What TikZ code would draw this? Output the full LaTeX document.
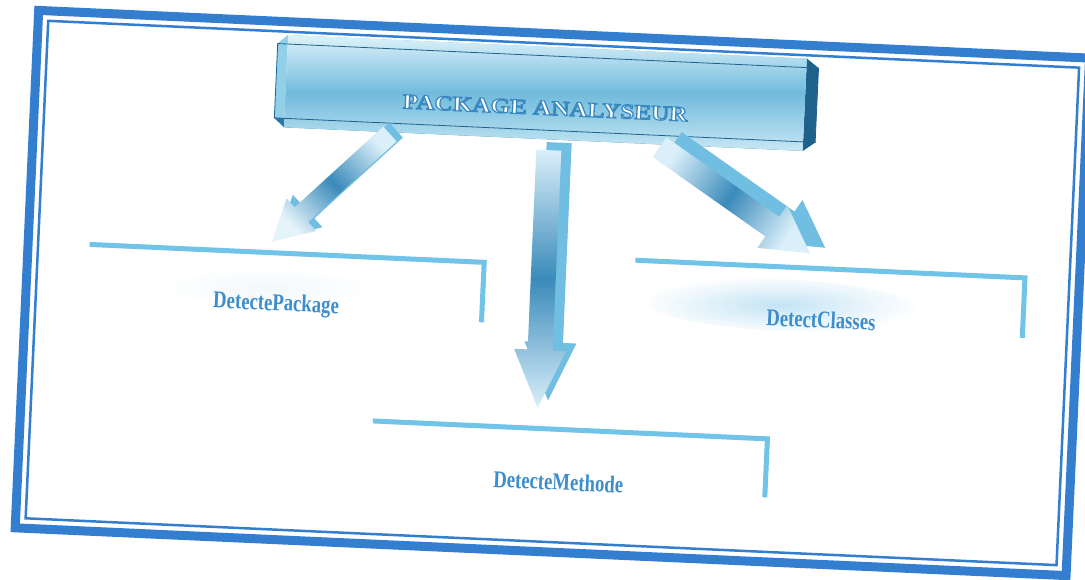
\documentclass[tikz,border=0pt]{standalone}
\usepackage{fontspec}
\setmainfont{Liberation Serif}
\usetikzlibrary{calc}

\definecolor{framebl}{RGB}{52,126,208}
\definecolor{linebl}{RGB}{112,196,232}
\definecolor{textbl}{RGB}{62,142,204}
\definecolor{arrlight}{RGB}{218,239,249}
\definecolor{arrdark}{RGB}{58,138,186}
\definecolor{arrside}{RGB}{112,190,226}
\definecolor{facelight}{RGB}{222,243,250}
\definecolor{facedark}{RGB}{112,186,220}
\definecolor{bevtop}{RGB}{118,196,228}
\definecolor{bevleft}{RGB}{146,208,234}
\definecolor{bevbot}{RGB}{44,122,164}
\definecolor{bevright}{RGB}{30,98,140}
\definecolor{haze}{RGB}{196,228,244}
\definecolor{hazefaint}{RGB}{242,248,252}

% white capitals with a blue stroked rim (text render mode 2 = fill and stroke)
\newcommand\engraved[1]{{\color{white}%
  \special{pdf:literal direct 2 Tr 1.1 w 0.227 0.533 0.753 RG}#1%
  \special{pdf:literal direct 0 Tr}}}

% condensed bold label
\newcommand\condlabel[1]{\scalebox{0.78}[1]{\fontsize{24}{26}\selectfont\bfseries #1}}

% fat block arrow: #1 style, #2 start, #3 tip, #4 half shaft, #5 half head, #6 head length
\newcommand\fatarrow[6]{%
  \coordinate (#2-hb) at ($(#3)!#6pt!(#2)$);
  \path[#1] ($(#2)!#4pt!90:(#3)$)
    -- ($(#2-hb)!#4pt!90:(#3)$)
    -- ($(#2-hb)!#5pt!90:(#3)$)
    -- (#3)
    -- ($(#2-hb)!#5pt!-90:(#3)$)
    -- ($(#2-hb)!#4pt!-90:(#3)$)
    -- ($(#2)!#4pt!-90:(#3)$) -- cycle;}

\tikzset{
  outerband/.style={draw=framebl, line width=9pt},
  innerband/.style={draw=framebl, line width=2.5pt},
  shelf/.style={draw=linebl, line width=5pt, line cap=butt, line join=miter},
  shelflabel/.style={text=textbl, inner sep=0pt},
  sideface/.style={fill=arrside},
}

\begin{document}
\begin{tikzpicture}[x=1pt, y=-1pt]
\useasboundingbox (0,0) rectangle (1085,579);
\fill[white] (0,0) rectangle (1085,579);

\begin{scope}[rotate around={-2.6:(542,290)}, every node/.style={transform shape}]

  % double frame
  \draw[outerband] (26.5,33.5) rectangle (1078.5,551.5);
  \draw[innerband] (36.5,43.5) rectangle (1068.5,541.5);

  % soft hazes behind the labels
  \shade[inner color=haze, outer color=white] (780,294) ellipse (140 and 26);
  \shade[inner color=hazefaint, outer color=white] (268,300) ellipse (110 and 18);

  % bevelled title plate
  \node[minimum width=541pt, minimum height=74pt, inner sep=0pt] (pkg) at (537.5,93) {};
  \coordinate (fnw) at ($(pkg.north west)!10pt!(pkg.north east)$);
  \coordinate (fnw) at ($(fnw)!9pt!90:(pkg.north east)$);
  \coordinate (fne) at ($(pkg.north east)!12pt!(pkg.north west)$);
  \coordinate (fne) at ($(fne)!9pt!-90:(pkg.north west)$);
  \coordinate (fsw) at ($(pkg.south west)!10pt!(pkg.south east)$);
  \coordinate (fsw) at ($(fsw)!9pt!-90:(pkg.south east)$);
  \coordinate (fse) at ($(pkg.south east)!12pt!(pkg.south west)$);
  \coordinate (fse) at ($(fse)!9pt!90:(pkg.south west)$);
  \fill[bevtop] (pkg.north west) -- (pkg.north east) -- (fne) -- (fnw) -- cycle;
  \fill[bevleft] (pkg.north west) -- (fnw) -- (fsw) -- (pkg.south west) -- cycle;
  \fill[bevbot] (pkg.south west) -- (fsw) -- (fse) -- (pkg.south east) -- cycle;
  \fill[bevright] (pkg.north east) -- (fne) -- (fse) -- (pkg.south east) -- cycle;
  \shade[top color=facelight, bottom color=facelight!80!facedark, middle color=facedark]
    (fnw) -- (fne) -- (fse) -- (fsw) -- cycle;
  \draw[bevright, line width=0.8pt] (pkg.north west) -- (pkg.north east) -- (pkg.south east) -- (pkg.south west) -- cycle;
  \node[inner sep=0pt] (title) at (537,108)
    {\scalebox{1.2}[1]{\fontsize{21}{23}\selectfont\bfseries\engraved{PACKAGE ANALYSEUR}}};

  % shelves with their labels
  \coordinate (lpA) at (88,265);  \coordinate (lpB) at (483,265);  \coordinate (lpC) at (483,325);
  \coordinate (rcA) at (634,256); \coordinate (rcB) at (1024,256); \coordinate (rcC) at (1024,316);
  \coordinate (bmA) at (379,428.5); \coordinate (bmB) at (774,428.5); \coordinate (bmC) at (774,487);
  \draw[shelf] (lpA) -- (lpB) -- (lpC);
  \draw[shelf] (rcA) -- (rcB) -- (rcC);
  \draw[shelf] (bmA) -- (bmB) -- (bmC);
  \node[shelflabel] (pkgdet) at (277,317) {\condlabel{DetectePackage}};
  \node[shelflabel] (clsdet) at (822,307) {\condlabel{DetectClasses}};
  \node[shelflabel] (metdet) at (567,481) {\condlabel{DetecteMethode}};

  % arrow anchors
  \coordinate (la) at (383,141);   \coordinate (lt) at (270,254);
  \coordinate (las) at (389,137);  \coordinate (lts) at (276,250);
  \coordinate (ma) at (542.5,150); \coordinate (mt) at (543,408);
  \coordinate (mas) at (552.5,142);\coordinate (mts) at (553,400);
  \coordinate (ra) at (653,142);   \coordinate (rt) at (808,241);
  \coordinate (ras) at (668,136);  \coordinate (rts) at (823,235);

  % side faces
  \fatarrow{sideface}{las}{lts}{10}{22}{40}
  \fatarrow{sideface}{mas}{mts}{12.5}{26}{58}
  \fatarrow{sideface}{ras}{rts}{12}{26}{46}

  % front faces
  \fatarrow{top color=arrlight, bottom color=arrlight!70!white, middle color=arrdark, shading angle=-45}{la}{lt}{10}{22}{40}
  \fatarrow{top color=arrlight, bottom color=arrlight, middle color=arrdark, shading angle=0}{ma}{mt}{12.5}{26}{58}
  \fatarrow{top color=arrlight, bottom color=arrlight, middle color=arrdark, shading angle=57}{ra}{rt}{12}{26}{46}

\end{scope}
\end{tikzpicture}
\end{document}
